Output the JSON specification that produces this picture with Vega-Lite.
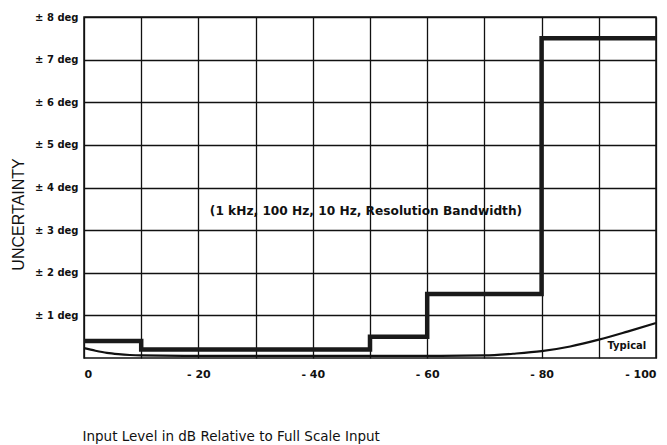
{
  "$schema": "https://vega.github.io/schema/vega-lite/v6.json",
  "width": 572,
  "height": 341,
  "autosize": {"type": "none"},
  "padding": {"left": 84, "top": 17, "right": 11, "bottom": 87},
  "background": "white",
  "config": {
    "view": {"stroke": "#111", "strokeWidth": 1.5},
    "font": "DejaVu Sans"
  },
  "datasets": {
    "step": [
      {"i": 0, "level": 0, "unc": 0.4},
      {"i": 1, "level": -10, "unc": 0.2},
      {"i": 2, "level": -50, "unc": 0.5},
      {"i": 3, "level": -60, "unc": 1.5},
      {"i": 4, "level": -80, "unc": 7.5},
      {"i": 5, "level": -100, "unc": 7.5}
    ],
    "typical": [
      {"level": 0, "unc": 0.23},
      {"level": -2, "unc": 0.17},
      {"level": -4, "unc": 0.12},
      {"level": -6, "unc": 0.09},
      {"level": -8, "unc": 0.07},
      {"level": -10, "unc": 0.06},
      {"level": -20, "unc": 0.05},
      {"level": -40, "unc": 0.05},
      {"level": -60, "unc": 0.05},
      {"level": -70, "unc": 0.06},
      {"level": -75, "unc": 0.1},
      {"level": -80, "unc": 0.16},
      {"level": -85, "unc": 0.27},
      {"level": -90, "unc": 0.43},
      {"level": -95, "unc": 0.62},
      {"level": -100, "unc": 0.82}
    ],
    "notes": [
      {"level": -49.3, "unc": 3.46, "label": "(1 kHz, 100 Hz, 10 Hz, Resolution Bandwidth)", "kind": "note"},
      {"level": -94.9, "unc": 0.28, "label": "Typical", "kind": "typ"}
    ]
  },
  "layer": [
    {
      "data": {"name": "typical"},
      "mark": {"type": "line", "interpolate": "monotone", "color": "#111", "strokeWidth": 2.2},
      "encoding": {
        "x": {
          "field": "level", "type": "quantitative",
          "scale": {"domain": [-100, 0], "reverse": true, "nice": false},
          "axis": {
            "values": [0, -10, -20, -30, -40, -50, -60, -70, -80, -90, -100],
            "labelExpr": "datum.value % 20 == 0 ? (datum.value == 0 ? '0' : '- ' + abs(datum.value)) : ''",
            "grid": true, "gridColor": "#111", "gridWidth": 1.3, "gridOpacity": 1,
            "ticks": false, "domain": false,
            "labelFont": "DejaVu Sans", "labelFontSize": 11, "labelFontWeight": "bold", "labelColor": "#111", "labelPadding": 10,
            "labelFlush": true,
            "title": "Input Level in dB Relative to Full Scale Input",
            "titleFont": "DejaVu Sans", "titleFontSize": 13.5, "titleFontWeight": "normal", "titleColor": "#111",
            "titleAnchor": "start", "titleAlign": "left", "titleX": -2, "titleY": 78, "titleBaseline": "middle"
          }
        },
        "y": {
          "field": "unc", "type": "quantitative",
          "scale": {"domain": [0, 8], "nice": false},
          "axis": {
            "values": [1, 2, 3, 4, 5, 6, 7, 8],
            "labelExpr": "'± ' + datum.value + ' deg'",
            "grid": true, "gridColor": "#111", "gridWidth": 1.3, "gridOpacity": 1,
            "ticks": false, "domain": false,
            "labelFont": "DejaVu Sans", "labelFontSize": 10, "labelFontWeight": "bold", "labelColor": "#111", "labelPadding": 6,
            "labelFlush": false,
            "title": "UNCERTAINTY",
            "titleFont": "Liberation Sans", "titleFontSize": 16, "titleFontWeight": "normal", "titleColor": "#111",
            "titleX": -66, "titleY": 197, "titleAlign": "center", "titleBaseline": "middle"
          }
        }
      }
    },
    {
      "data": {"name": "step"},
      "mark": {"type": "line", "interpolate": "step-after", "color": "#1a1a1a", "strokeWidth": 4.5},
      "encoding": {
        "x": {"field": "level", "type": "quantitative"},
        "y": {"field": "unc", "type": "quantitative"},
        "order": {"field": "i", "type": "quantitative"}
      }
    },
    {
      "data": {"name": "notes"},
      "mark": {"type": "text", "font": "DejaVu Sans", "fontWeight": "bold", "color": "#111", "align": "center", "baseline": "middle"},
      "encoding": {
        "x": {"field": "level", "type": "quantitative"},
        "y": {"field": "unc", "type": "quantitative"},
        "text": {"field": "label"},
        "size": {"field": "kind", "type": "nominal", "scale": {"domain": ["note", "typ"], "range": [12.2, 10]}, "legend": null}
      }
    }
  ]
}
